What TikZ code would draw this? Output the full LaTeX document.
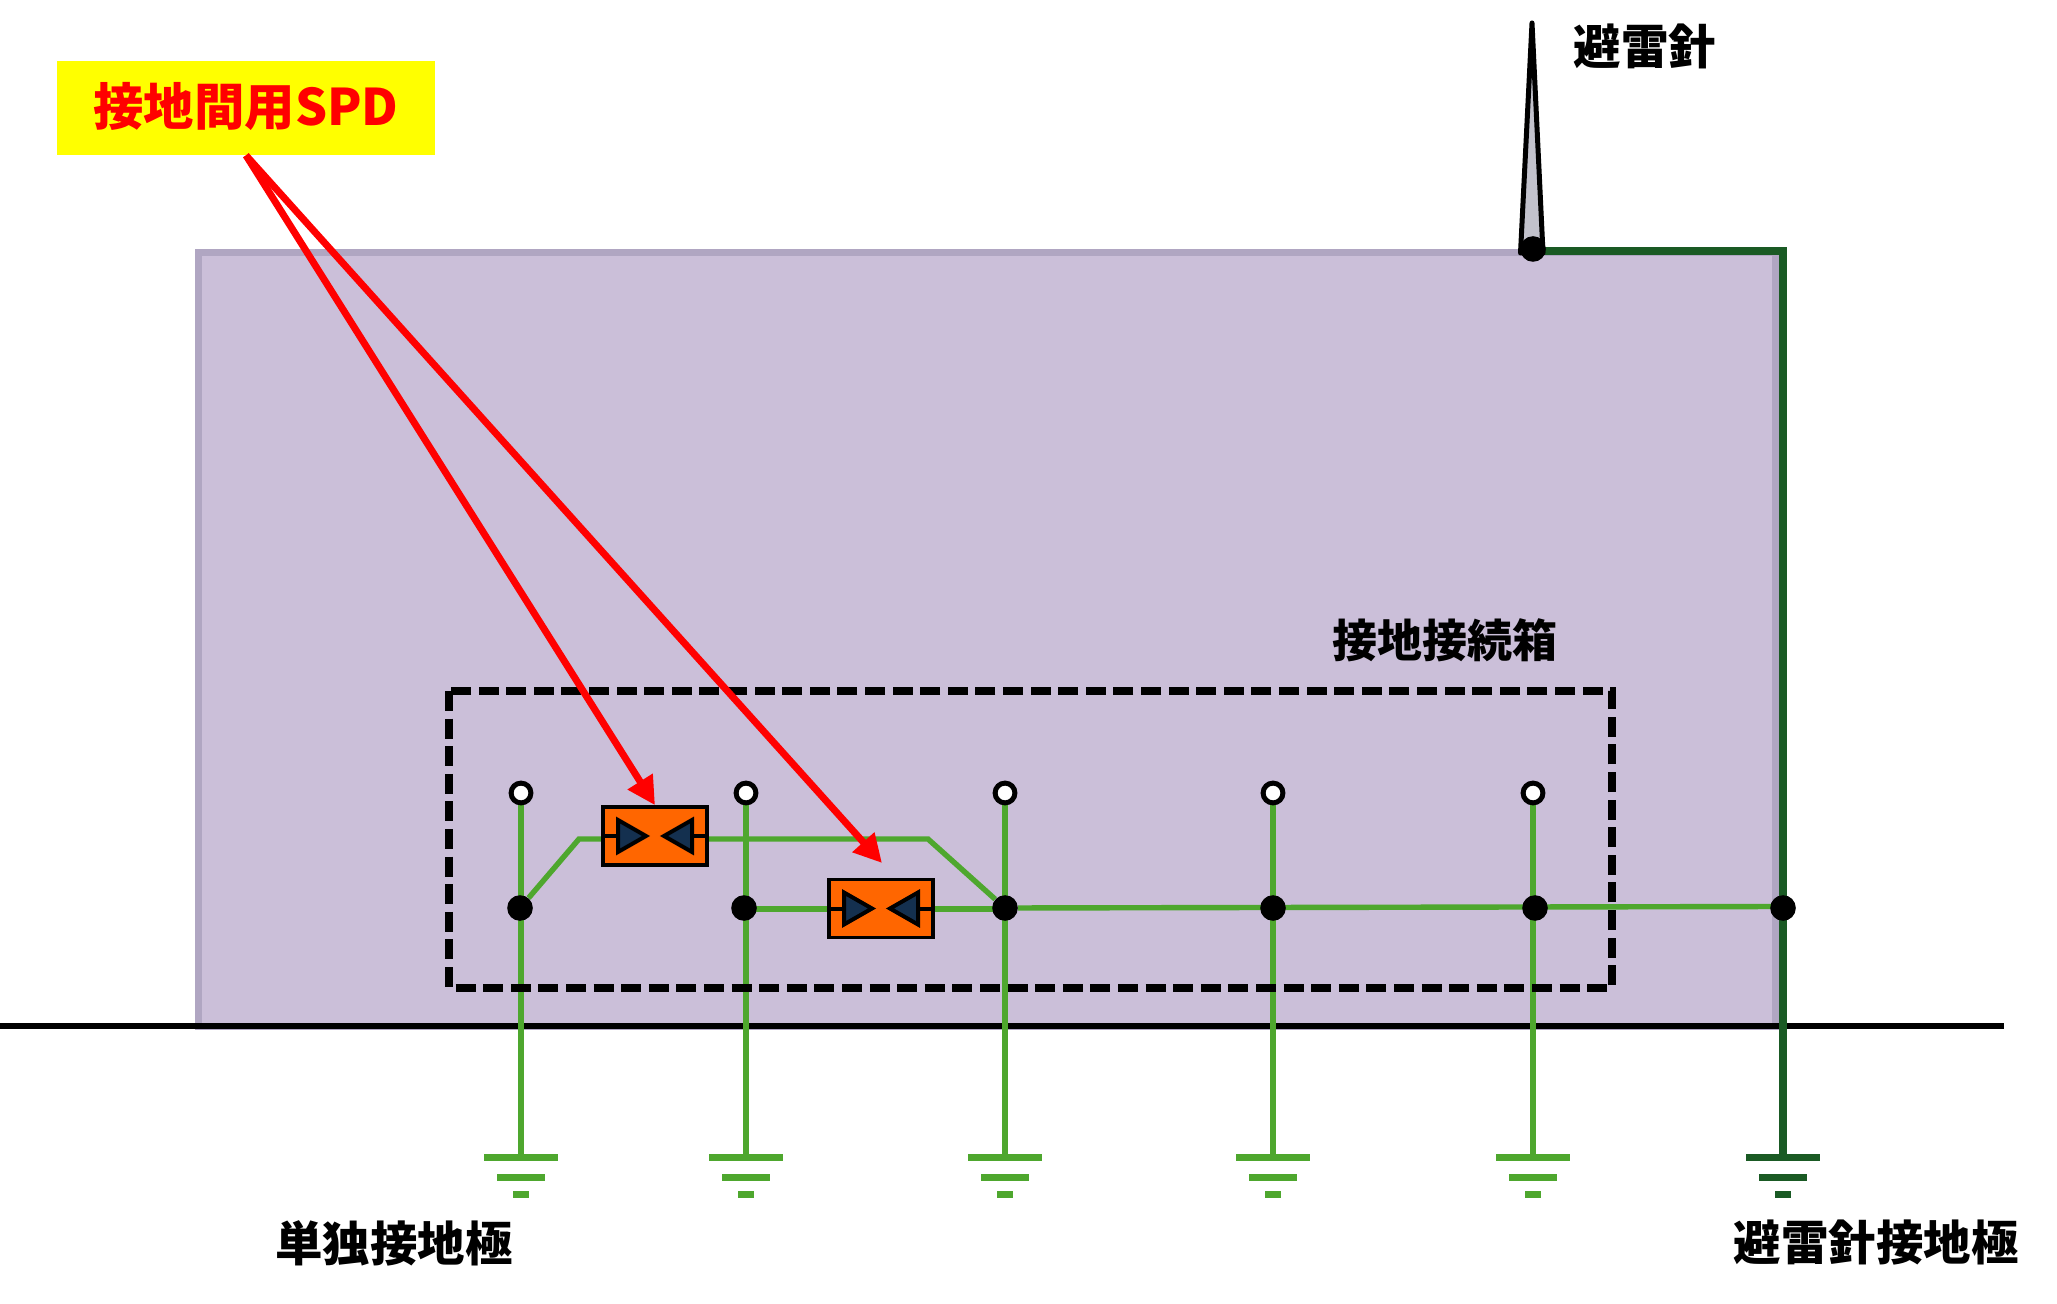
\documentclass[tikz,border=0pt]{standalone}
\usepackage{fontspec}
\setmainfont{Noto Sans CJK JP}
\usetikzlibrary{arrows.meta,calc}
\pgfdeclarelayer{back}
\pgfdeclarelayer{wires}
\pgfsetlayers{back,wires,main}
\definecolor{wallfill}{HTML}{CBBFD9}
\definecolor{walledge}{HTML}{B0A6C2}
\definecolor{wiregreen}{HTML}{4EA72E}
\definecolor{roddark}{HTML}{1A5A24}
\definecolor{spdorange}{HTML}{FF6600}
\definecolor{spdnavy}{HTML}{14304F}
\definecolor{needlegrey}{HTML}{C2C2CC}
\definecolor{calloutyellow}{HTML}{FFFF00}
\definecolor{alertred}{HTML}{FF0000}
\tikzset{
  x=0.5pt,y=-0.5pt,
  wall/.style={draw=walledge,fill=wallfill,line width=3.5pt},
  earthline/.style={draw=black,line width=2.8pt},
  riser/.style={draw=wiregreen,line width=3.4pt},
  wire/.style={draw=wiregreen,line width=2.7pt},
  rodwire/.style={draw=roddark,line width=3.6pt},
  earthbar/.style={line width=3.5pt},
  dotnode/.style={circle,fill=black,inner sep=0pt,minimum size=12.8pt},
  opennode/.style={circle,draw=black,fill=white,line width=2.5pt,inner sep=0pt,minimum size=9.9pt},
  spdbox/.style={rectangle,draw=black,fill=spdorange,line width=1.8pt,inner sep=0pt,minimum width=52pt,minimum height=29pt},
  spdtri/.style={draw=black,fill=spdnavy,line width=2pt},
  spdstub/.style={draw=black,line width=2pt},
  dashbox/.style={draw=black,line width=3.6pt,dash pattern=on 10pt off 3.8pt},
  callout/.style={rectangle,fill=calloutyellow,inner sep=0pt,minimum width=189pt,minimum height=47pt,text=alertred,font=\fontsize{25.2}{28}\selectfont\bfseries},
  lbl/.style={inner sep=0pt,text=black,font=\fontsize{23.75}{28}\selectfont\bfseries},
  lblsmall/.style={inner sep=0pt,text=black,font=\fontsize{22.5}{28}\selectfont\bfseries},
  redarrow/.style={draw=alertred,line width=3.5pt,-{Triangle[length=14pt,width=14pt]}},
  spdsym/.pic={
    \path[spdtri] (-37,-16) -- (-9,0) -- (-37,16) -- cycle;
    \path[spdtri] (37,-16) -- (9,0) -- (37,16) -- cycle;
    \path[spdstub] (-52,0) -- (-37,0) (37,0) -- (52,0);
  },
  earthsym/.pic={
    \draw[earthbar,pic actions] (-37,0) -- (37,0);
    \draw[earthbar,pic actions] (-24,20) -- (24,20);
    \draw[earthbar,pic actions] (-8,37) -- (8,37);
  },
}
\begin{document}
\begin{tikzpicture}
\useasboundingbox (0,0) rectangle (2057,1304);

% named points
\coordinate (gndL) at (0,1026);
\coordinate (gndR) at (2004,1026);
\coordinate (kneeA) at (579,839);
\coordinate (kneeB) at (928,839);
\coordinate (rodC) at (1783,251);
\coordinate (rodE) at (1783,1157);
\coordinate (busEnd) at (1783,906.5);
\coordinate (dashTL) at (449,691);
\coordinate (dashBR) at (1612,988);

% terminals, junctions, electrodes
\foreach \n/\x/\d in {a/521/520,b/746/744,c/1005/1005,d/1273/1273,e/1533/1535}{
  \node[opennode] (o\n) at (\x,793) {};
  \node[dotnode] (j\n) at (\d,908) {};
  \coordinate (g\n) at (\x,1157);
  \pic[draw=wiregreen] at (g\n) {earthsym};
}
\node[dotnode] (jr) at (1783,908) {};
\pic[draw=roddark] at (rodE) {earthsym};

% surge protective devices
\node[spdbox] (spda) at (655,836) {};
\pic at (spda) {spdsym};
\node[spdbox] (spdb) at (881,908.5) {};
\pic at (spdb) {spdsym};
\coordinate (spdbT) at (882,863);

% needle
\path[draw=black,fill=needlegrey,line width=2.5pt,line join=round]
  (1532,23) -- (1543,253) -- (1520.5,253) -- cycle;
\node[dotnode] (ndot) at (1533,249) {};

% dashed enclosure
\draw[dashbox] (dashTL) rectangle (dashBR);

\begin{pgfonlayer}{back}
  \draw[wall] (198.5,252.5) rectangle (1775.5,1026);
  \draw[earthline] (gndL) -- (gndR);
\end{pgfonlayer}

\begin{pgfonlayer}{wires}
  \foreach \n in {a,b,c,d,e}{
    \draw[riser] (o\n) -- (g\n);
  }
  \draw[wire,line join=miter] (ja) -- (kneeA) -- (spda.west |- kneeA);
  \draw[wire,line join=miter] (spda.east |- kneeB) -- (kneeB) -- (jc);
  \draw[wire] (jb.center |- 0,909) -- (spdb.west |- 0,909);
  \draw[wire] (spdb.east |- 0,909) -- (jc.center |- 0,909);
  \draw[wire] (jc) -- (busEnd);
  \draw[rodwire,line join=miter] (ndot.center |- rodC) -- (rodC) -- (rodE);
\end{pgfonlayer}

% labels
\node[callout] (spdlabel) at (246,108) {\raisebox{4pt}{接地間用SPD}};
\node[lbl] (needlelabel) at (1645,46) {避雷針};
\node[lblsmall] (boxlabel) at (1445,640) {接地接続箱};
\node[lbl] (singlelabel) at (394,1243) {単独接地極};
\node[lbl] (rodlabel) at (1876,1243) {避雷針接地極};

% callout arrows
\draw[redarrow] (spdlabel.south) -- (spda.north);
\draw[redarrow] (spdlabel.south) -- (spdbT);
\end{tikzpicture}
\end{document}
